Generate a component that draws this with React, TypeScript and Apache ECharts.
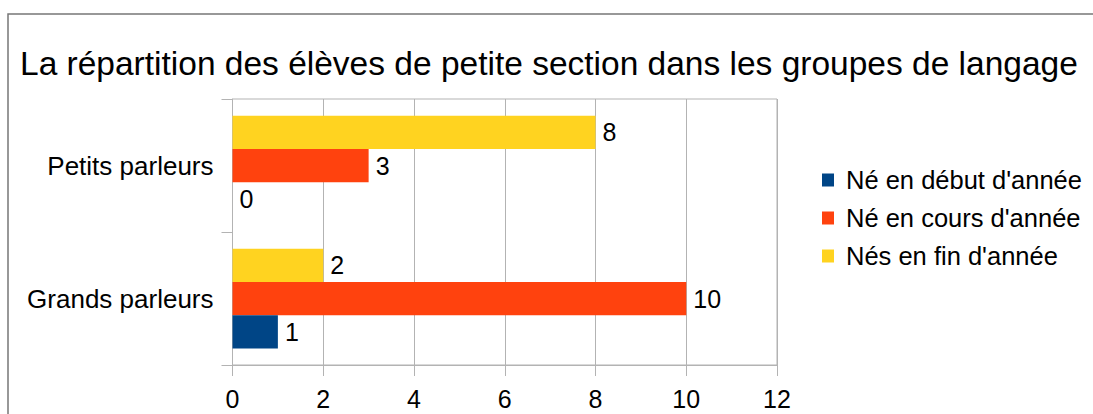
import React, { useEffect, useRef } from "react";
import * as echarts from "echarts";

const title = "La répartition des élèves de petite section dans les groupes de langage";
const categories = ["Grands parleurs", "Petits parleurs"];
const seriesNames = ["Né en début d'année", "Né en cours d'année", "Nés en fin d'année"];
const debut = [1, 0];
const cours = [10, 3];
const fin = [2, 8];
const xTicks = { min: 0, max: 12, interval: 2 };

const FONT = "'Liberation Sans', Arial, sans-serif";
const GRID = "#b3b3b3";

export default function App() {
  const ref = useRef<HTMLDivElement>(null);
  useEffect(() => {
    if (!ref.current) return;
    const chart = echarts.init(ref.current, undefined, { renderer: "svg" });
    const colors = ["#004586", "#ff420e", "#ffd320"];
    const values = [debut, cours, fin];
    // ECharts stacks horizontal series top-down; reverse so the first series sits at the bottom
    const order = [2, 1, 0];
    chart.setOption({
      animation: false,
      textStyle: { fontFamily: FONT },
      title: {
        text: title,
        left: 20,
        top: 46,
        padding: 0,
        textStyle: { fontFamily: FONT, fontSize: 33.5, fontWeight: "normal", color: "#000" },
      },
      graphic: [
        {
          type: "rect",
          shape: { x: 8, y: 14, width: 1200, height: 500 },
          style: { fill: "none", stroke: "#777777", lineWidth: 1.5 },
          silent: true,
        },
      ],
      legend: {
        orient: "vertical",
        left: 822,
        top: 167,
        padding: 0,
        itemWidth: 12,
        itemHeight: 13,
        itemGap: 12,
        icon: "rect",
        data: seriesNames,
        textStyle: { fontFamily: FONT, fontSize: 25.5, color: "#000", padding: [0, 0, 0, 7] },
      },
      grid: {
        left: 232.5,
        right: 316,
        top: 99,
        bottom: 49,
        show: true,
        borderColor: GRID,
        borderWidth: 1,
      },
      xAxis: {
        type: "value",
        min: xTicks.min,
        max: xTicks.max,
        interval: xTicks.interval,
        axisLine: { show: true, lineStyle: { color: GRID } },
        axisTick: { show: true, length: 11, lineStyle: { color: GRID } },
        splitLine: { show: true, lineStyle: { color: GRID } },
        axisLabel: { fontFamily: FONT, fontSize: 25, color: "#000", margin: 21 },
      },
      yAxis: {
        type: "category",
        data: categories,
        axisLine: { show: true, lineStyle: { color: GRID } },
        axisTick: { show: true, length: 11, lineStyle: { color: GRID } },
        axisLabel: { fontFamily: FONT, fontSize: 26, color: "#000", margin: 19 },
      },
      series: order.map((i) => ({
        name: seriesNames[i],
        type: "bar",
        data: values[i],
        barGap: "0%",
        barCategoryGap: "25%",
        itemStyle: { color: colors[i] },
        label: {
          show: true,
          position: "right",
          distance: 7,
          fontFamily: FONT,
          fontSize: 25,
          color: "#000",
        },
      })),
    });
    return () => chart.dispose();
  }, []);
  return (
    <div
      ref={ref}
      style={{ position: "absolute", left: 0, top: 0, width: 1093, height: 414, background: "#fff" }}
    />
  );
}
